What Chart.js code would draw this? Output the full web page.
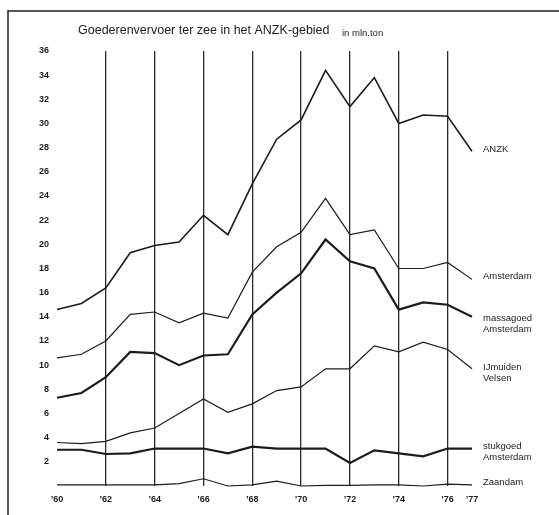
<!DOCTYPE html>
<html>
<head>
<meta charset="utf-8">
<script src="https://cdn.jsdelivr.net/npm/chart.js@4.4.1/dist/chart.umd.min.js"></script>
<style>
  html, body { margin: 0; padding: 0; background: #fff; }
  #wrap { width: 559px; height: 515px; position: relative; }
</style>
</head>
<body>
<div id="wrap"><canvas id="zeeChart"></canvas></div>
<script>
// jaren 1960 - 1977
const years = ['60', '61', '62', '63', '64', '65', '66', '67', '68', '69', '70', '71', '72', '73', '74', '75', '76', '77'];
const yTicks = [2, 4, 6, 8, 10, 12, 14, 16, 18, 20, 22, 24, 26, 28, 30, 32, 34, 36];

// in mln. ton
const anzk       = [14.6, 15.1, 16.4, 19.3, 19.9, 20.2, 22.4, 20.8, 25.0, 28.7, 30.3, 34.4, 31.4, 33.8, 30.0, 30.7, 30.6, 27.7];
const amsterdam  = [10.6, 10.9, 12.0, 14.2, 14.4, 13.5, 14.3, 13.9, 17.7, 19.8, 21.0, 23.8, 20.8, 21.2, 18.0, 18.0, 18.5, 17.1];
const massagoed  = [7.3, 7.7, 9.0, 11.1, 11.0, 10.0, 10.8, 10.9, 14.2, 16.0, 17.6, 20.4, 18.6, 18.0, 14.6, 15.2, 15.0, 14.0];
const ijmuiden   = [3.6, 3.5, 3.7, 4.4, 4.8, 6.0, 7.2, 6.1, 6.8, 7.9, 8.2, 9.7, 9.7, 11.6, 11.1, 11.9, 11.3, 9.7];
const stukgoed   = [3.0, 3.0, 2.65, 2.7, 3.1, 3.1, 3.1, 2.7, 3.25, 3.1, 3.1, 3.1, 1.9, 2.95, 2.7, 2.45, 3.1, 3.1];
const zaandam    = [0.1, 0.1, 0.1, 0.1, 0.1, 0.2, 0.6, 0.0, 0.1, 0.4, 0.0, 0.05, 0.05, 0.1, 0.1, 0.0, 0.15, 0.1];

const INK = '#1c1c1c';
const FONT = '"Liberation Sans", Arial, sans-serif';

function line(label, data, width, endLabel, offsets) {
    return {
        label: label,
        data: data,
        borderColor: INK,
        borderWidth: width,
        pointRadius: 0,
        tension: 0,
        fill: false,
        clip: false,
        endLabel: endLabel,
        endOffsets: offsets
    };
}

// labels at the right end of each line + frame and title
const decorations = {
    id: 'decorations',
    afterDatasetsDraw(chart) {
        const ctx = chart.ctx;
        ctx.save();
        ctx.fillStyle = INK;
        ctx.textBaseline = 'middle';
        ctx.textAlign = 'left';
        ctx.font = '9.5px ' + FONT;
        chart.data.datasets.forEach((ds, i) => {
            const pts = chart.getDatasetMeta(i).data;
            const last = pts[pts.length - 1];
            ds.endLabel.forEach((txt, j) => {
                ctx.fillText(txt, last.x + 11, last.y + ds.endOffsets[j]);
            });
        });

        // title
        ctx.font = '12.5px ' + FONT;
        ctx.fillText('Goederenvervoer ter zee in het ANZK-gebied', 78, 31);
        ctx.font = '9.5px ' + FONT;
        ctx.fillText('in mln.ton', 342, 33);

        // frame (top and left only)
        ctx.strokeStyle = '#222';
        ctx.lineWidth = 1.5;
        ctx.beginPath();
        ctx.moveTo(8, 11);
        ctx.lineTo(559, 11);
        ctx.moveTo(8, 10);
        ctx.lineTo(8, 515);
        ctx.stroke();
        ctx.restore();
    }
};

new Chart(document.getElementById('zeeChart'), {
    type: 'line',
    data: {
        labels: years,
        datasets: [
            line('ANZK', anzk, 1.6, ['ANZK'], [-2]),
            line('Amsterdam', amsterdam, 1.2, ['Amsterdam'], [-3]),
            line('massagoed Amsterdam', massagoed, 2.2, ['massagoed', 'Amsterdam'], [2, 13]),
            line('IJmuiden Velsen', ijmuiden, 1.2, ['IJmuiden', 'Velsen'], [-1, 10]),
            line('stukgoed Amsterdam', stukgoed, 2.2, ['stukgoed', 'Amsterdam'], [-2, 9]),
            line('Zaandam', zaandam, 1.2, ['Zaandam'], [-2])
        ]
    },
    options: {
        responsive: true,
        maintainAspectRatio: false,
        animation: false,
        layout: {
            padding: { top: 51, right: 87, bottom: 0, left: 0 }
        },
        scales: {
            x: {
                type: 'category',
                offset: false,
                border: { display: false },
                grid: {
                    drawTicks: false,
                    lineWidth: 1.3,
                    color: (c) => {
                        const i = c.index;
                        return (i > 0 && i < years.length - 1 && i % 2 === 0) ? '#2a2a2a' : 'rgba(0,0,0,0)';
                    }
                },
                ticks: {
                    autoSkip: false,
                    maxRotation: 0,
                    padding: 8,
                    color: INK,
                    font: { family: FONT, size: 9, weight: 'bold' },
                    callback: function (v, i) {
                        return (i % 2 === 0 || i === years.length - 1) ? '\u2019' + years[i] : '';
                    }
                },
                afterFit: (s) => { s.height = 29; }
            },
            y: {
                min: 0,
                max: 36,
                border: { display: false },
                grid: { display: false, drawTicks: false },
                afterBuildTicks: (s) => { s.ticks = yTicks.map(v => ({ value: v })); },
                ticks: {
                    padding: 8,
                    color: INK,
                    font: { family: FONT, size: 9, weight: 'bold' },
                    callback: (v) => v
                },
                afterFit: (s) => { s.width = 57; }
            }
        },
        plugins: {
            legend: { display: false },
            tooltip: { enabled: false }
        }
    },
    plugins: [decorations]
});
</script>
</body>
</html>
